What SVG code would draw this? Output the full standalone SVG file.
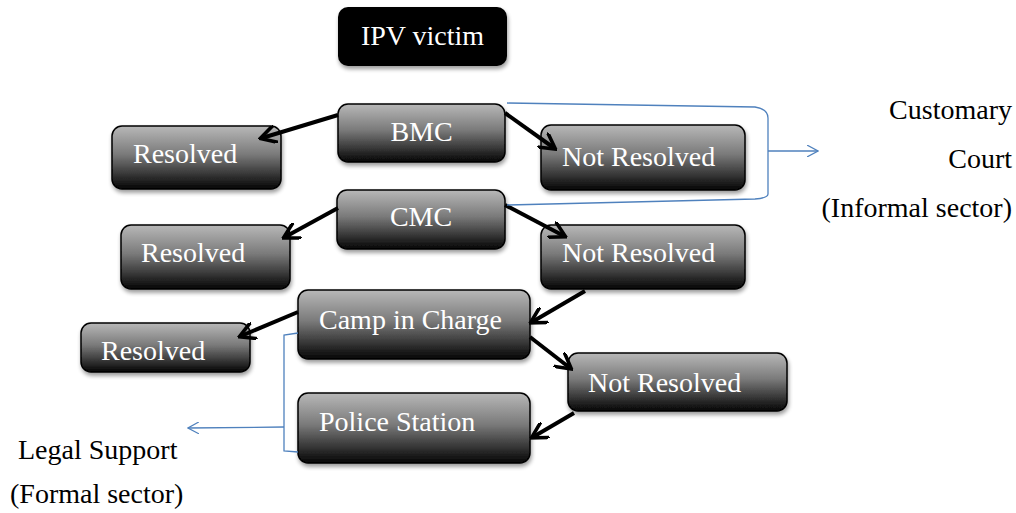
<svg xmlns="http://www.w3.org/2000/svg" width="1016" height="513" viewBox="0 0 1016 513">
<defs>
<linearGradient id="g" x1="0" y1="0" x2="0" y2="1">
<stop offset="0" stop-color="#b8b8b8"/>
<stop offset="0.45" stop-color="#7a7a7a"/>
<stop offset="1" stop-color="#050505"/>
</linearGradient>
<filter id="sh" x="-10%" y="-10%" width="130%" height="140%">
<feGaussianBlur in="SourceAlpha" stdDeviation="2"/>
<feOffset dx="1" dy="3" result="o"/>
<feComponentTransfer><feFuncA type="linear" slope="0.4"/></feComponentTransfer>
<feMerge><feMergeNode/><feMergeNode in="SourceGraphic"/></feMerge>
</filter>
<marker id="ah" viewBox="0 0 10 10" refX="8" refY="5" markerWidth="4.5" markerHeight="4.5" orient="auto" markerUnits="strokeWidth">
<path d="M0,0 L9,5 L0,10" fill="none" stroke="#000" stroke-width="2"/>
</marker>
<marker id="ab" viewBox="0 0 12 12" refX="11" refY="6" markerWidth="12" markerHeight="12" orient="auto" markerUnits="userSpaceOnUse">
<path d="M0,0 L11,6 L0,12" fill="none" stroke="#4f81bd" stroke-width="1.2"/>
</marker>
</defs>
<style>
.box{fill:url(#g);stroke:#000;stroke-width:1.5;filter:url(#sh)}
text{font-family:'Liberation Serif','DejaVu Serif',serif;font-size:28px}
.t{fill:#fff}
.k{fill:#000}
.c{stroke:#000;stroke-width:4;fill:none;marker-end:url(#ah)}
.b{stroke:#4f81bd;stroke-width:1.3;fill:none}
</style>
<rect width="1016" height="513" fill="#fff"/>
<g id="ipv"><rect x="338" y="7" width="169" height="59" rx="10" fill="#000" filter="url(#sh)"/><text class="t" x="422.5" y="45" text-anchor="middle">IPV victim</text></g>
<g id="bmc"><rect class="box" x="338" y="104" width="167" height="58" rx="10"/><text class="t" x="421.5" y="141" text-anchor="middle">BMC</text></g>
<g id="res1"><rect class="box" x="112" y="126" width="169" height="63" rx="10"/><text class="t" x="133" y="163">Resolved</text></g>
<g id="nr1"><rect class="box" x="541" y="125" width="204" height="65" rx="10"/><text class="t" x="562" y="166">Not Resolved</text></g>
<g id="cmc"><rect class="box" x="337" y="190" width="168" height="59" rx="10"/><text class="t" x="421" y="226" text-anchor="middle">CMC</text></g>
<g id="res2"><rect class="box" x="121" y="225" width="169" height="64" rx="10"/><text class="t" x="141" y="262">Resolved</text></g>
<g id="nr2"><rect class="box" x="541" y="225" width="204" height="64" rx="10"/><text class="t" x="562" y="262">Not Resolved</text></g>
<g id="camp"><rect class="box" x="298" y="290" width="232" height="69" rx="10"/><text class="t" x="319" y="329">Camp in Charge</text></g>
<g id="res3"><rect class="box" x="81" y="323" width="169" height="49" rx="10"/><text class="t" x="101" y="360">Resolved</text></g>
<g id="nr3"><rect class="box" x="568" y="353" width="219" height="58" rx="10"/><text class="t" x="588" y="392">Not Resolved</text></g>
<g id="police"><rect class="box" x="298" y="393" width="232" height="70" rx="10"/><text class="t" x="319" y="431">Police Station</text></g>
<g id="labels">
<text class="k" x="1012" y="119" text-anchor="end">Customary</text>
<text class="k" x="1012" y="168" text-anchor="end">Court</text>
<text class="k" x="1012" y="217" text-anchor="end">(Informal sector)</text>
<text class="k" x="18" y="459">Legal Support</text>
<text class="k" x="10" y="503">(Formal sector)</text>
</g>
<g id="connectors">
<line class="c" x1="338" y1="115" x2="262" y2="138"/>
<line class="c" x1="505" y1="113" x2="554" y2="148"/>
<line class="c" x1="338" y1="208" x2="285" y2="237"/>
<line class="c" x1="505" y1="205" x2="564" y2="236"/>
<line class="c" x1="585" y1="291" x2="532" y2="322"/>
<line class="c" x1="298" y1="312" x2="241" y2="336"/>
<line class="c" x1="530" y1="337" x2="570" y2="368"/>
<line class="c" x1="574" y1="413" x2="533" y2="437"/>
<path class="b" d="M507,103 L755,107 Q768,109 768,118 L768,194 Q768,198 755,199 L507,205"/>
<line class="b" x1="768" y1="151" x2="818" y2="151" marker-end="url(#ab)"/>
<path class="b" d="M298,333 L284,335 L284,451 L298,452"/>
<line class="b" x1="284" y1="427" x2="188" y2="428" marker-end="url(#ab)"/>
</g>
</svg>
